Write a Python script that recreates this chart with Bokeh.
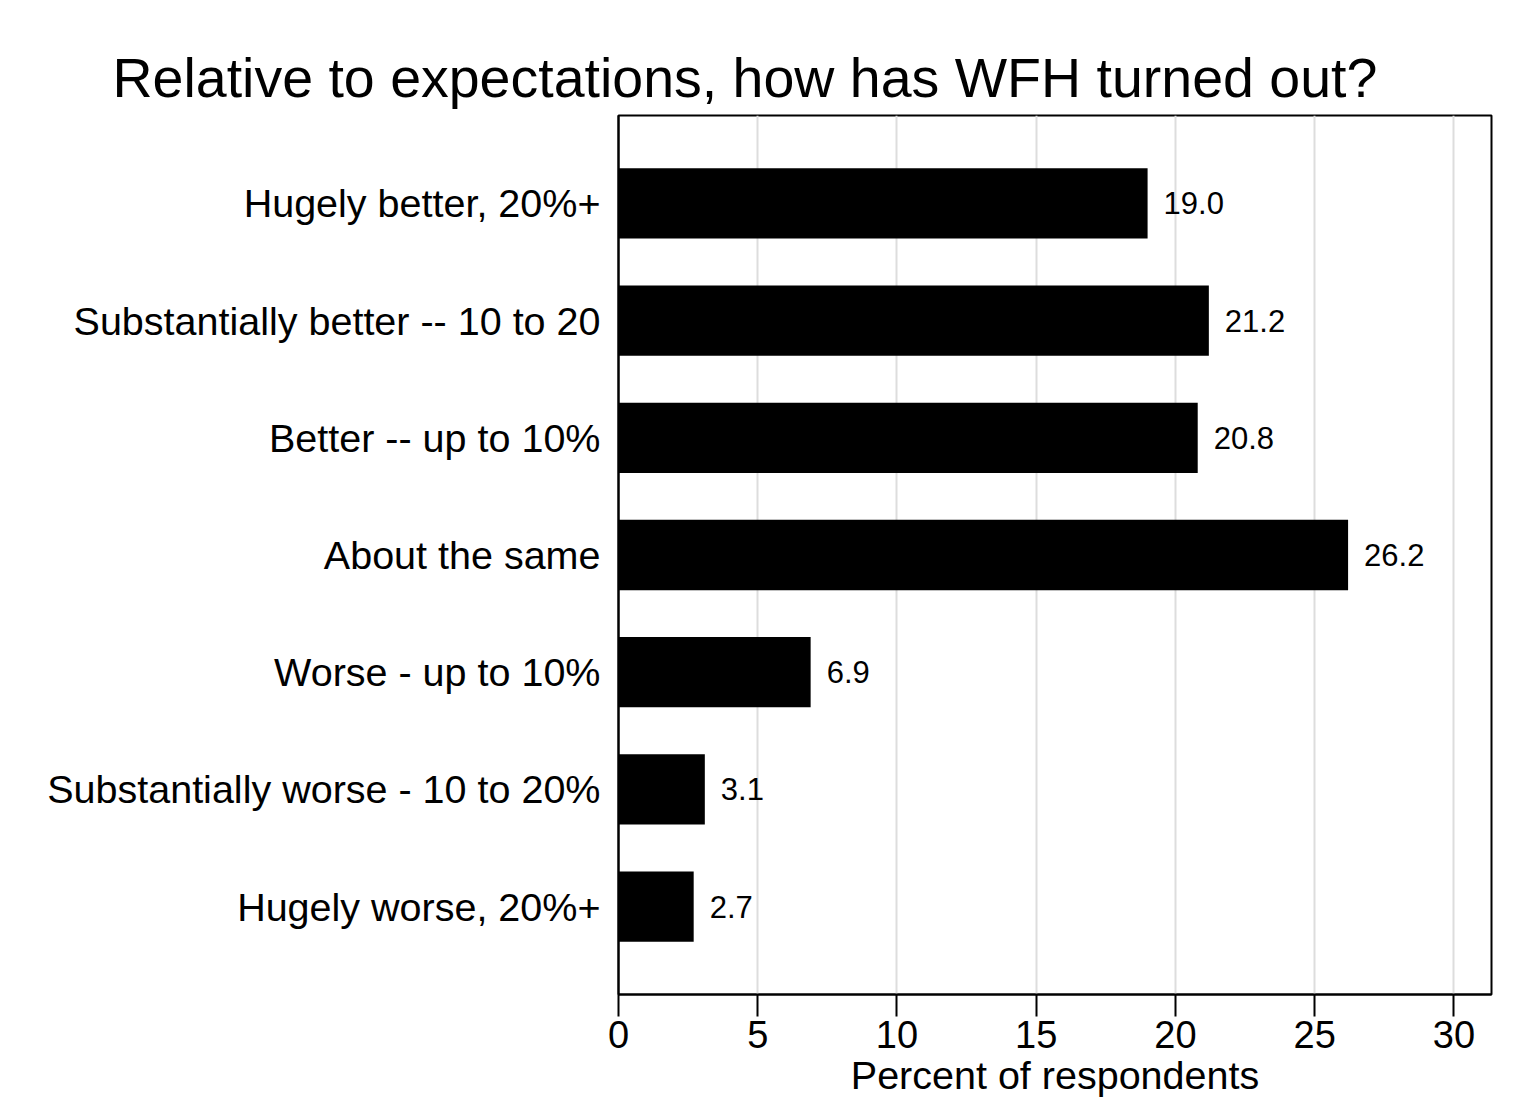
from bokeh.plotting import figure
from bokeh.models import ColumnDataSource, FactorRange, Range1d, FixedTicker
from bokeh.core.properties import value
from bokeh.embed import file_html
from bokeh.resources import INLINE

categories = [
    "Hugely better, 20%+",
    "Substantially better -- 10 to 20",
    "Better -- up to 10%",
    "About the same",
    "Worse - up to 10%",
    "Substantially worse - 10 to 20%",
    "Hugely worse, 20%+",
]
percents = [19.0, 21.2, 20.8, 26.2, 6.9, 3.1, 2.7]
value_labels = ["19.0", "21.2", "20.8", "26.2", "6.9", "3.1", "2.7"]
x_ticks = [0, 5, 10, 15, 20, 25, 30]

FONT = "Liberation Sans"

src = ColumnDataSource(dict(cat=categories, pct=percents, lab=value_labels))

yr = FactorRange(factors=list(reversed(categories)), range_padding=0.25,
                 range_padding_units="absolute")

p = figure(width=1508, height=1104, y_range=yr, x_range=Range1d(0, 31.35),
           output_backend="svg", toolbar_location=None,
           min_border_left=618, min_border_right=17, min_border_top=115,
           min_border_bottom=110)

p.title.text = "Relative to expectations, how has WFH turned out?"
p.title.text_font = FONT
p.title.text_font_size = "55.5px"
p.title.text_font_style = "normal"
p.title.text_color = "black"
p.title.align = "left"
p.title.offset = -506
p.title.standoff = 14

p.hbar(y="cat", right="pct", left=0, height=0.6, source=src,
       fill_color="black", line_color=None)

p.text(x="pct", y="cat", text="lab", source=src, x_offset=16,
       text_font=value(FONT), text_font_size="31px",
       text_baseline="middle", text_align="left", text_color="black")

p.outline_line_color = "black"
p.outline_line_width = 2
p.background_fill_color = "white"
p.border_fill_color = "white"

p.ygrid.grid_line_color = None
p.xgrid.grid_line_color = "#dddddd"
p.xgrid.grid_line_width = 2
p.xgrid.ticker = FixedTicker(ticks=[5, 10, 15, 20, 25, 30])

xa = p.xaxis[0]
xa.ticker = FixedTicker(ticks=x_ticks)
xa.axis_label = "Percent of respondents"
xa.axis_label_text_font = FONT
xa.axis_label_text_font_size = "39.5px"
xa.axis_label_text_font_style = "normal"
xa.axis_label_text_color = "black"
xa.axis_label_standoff = 2
xa.major_label_text_font = FONT
xa.major_label_text_font_size = "38px"
xa.major_label_text_color = "black"
xa.major_label_standoff = 4
xa.major_tick_out = 22
xa.major_tick_in = 0
xa.major_tick_line_width = 2
xa.minor_tick_line_color = None
xa.axis_line_width = 2
xa.axis_line_color = "black"

ya = p.yaxis[0]
ya.major_label_text_font = FONT
ya.major_label_text_font_size = "39.5px"
ya.major_label_text_color = "black"
ya.major_label_standoff = 12
ya.major_tick_line_color = None
ya.minor_tick_line_color = None
ya.axis_line_width = 2
ya.axis_line_color = "black"

open("out.html", "w").write(file_html(p, INLINE))
